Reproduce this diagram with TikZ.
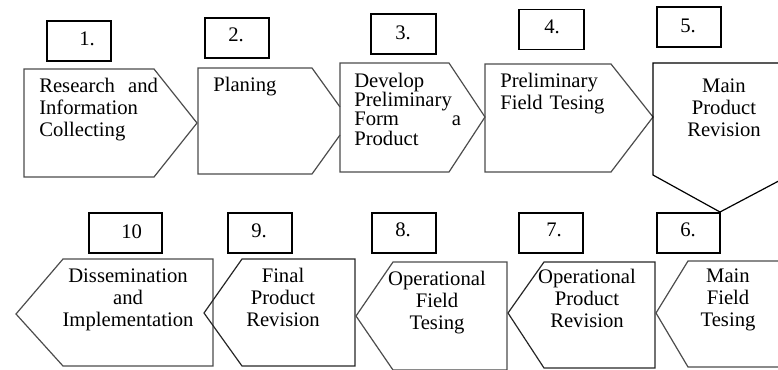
\documentclass[tikz,border=0pt]{standalone}
\usepackage{fontspec}
\setmainfont{Liberation Serif}
\begin{document}
\begin{tikzpicture}[x=0.75pt,y=-0.75pt,
  stage/.style={draw=black!70,line width=0.9pt,line join=miter},
  numbox/.style={draw=black,line width=0.9pt,minimum height=30pt,inner sep=0pt},
  numtext/.style={anchor=base west,inner sep=0pt,font=\fontsize{15.5}{16.5}\selectfont},
  lefttext/.style={anchor=base west,inner sep=0pt,align=left,font=\fontsize{15.5}{16.5}\selectfont},
  midtext/.style={anchor=base,inner sep=0pt,align=center,text width=110pt,font=\fontsize{15.5}{16.5}\selectfont}]
\useasboundingbox (0,0) rectangle (778,369);
\begin{scope}
\clip (0,0) rectangle (778,369);
% upper row of stage arrows, pointing right
\draw[stage] (24,69) -- (154,69) -- (197,123) -- (154,177) -- (24,177) -- cycle;
\draw[stage] (340,107) -- (312,68) -- (198,68) -- (198,174) -- (312,174) -- (340,135);
\draw[stage] (340,63) -- (449,63) -- (485,117) -- (449,172) -- (340,172) -- cycle;
\draw[stage] (485,64) -- (611,64) -- (653,117) -- (611,172) -- (485,172) -- cycle;
% turn downwards at stage 5
\draw[stage,draw=black] (653,63) -- (790,63) -- (790,175) -- (720,212) -- (653,175) -- cycle;
% lower row of stage arrows, pointing left
\draw[stage] (16,314) -- (63,259) -- (213,259) -- (213,366) -- (63,366) -- cycle;
\draw[stage,draw=black!85] (204,313) -- (242,259) -- (355,259) -- (355,366) -- (242,366) -- cycle;
\draw[stage] (356,316) -- (393,262) -- (507,262) -- (507,370) -- (393,370) -- cycle;
\draw[stage,draw=black!85] (508,313) -- (544,262) -- (655,262) -- (655,368) -- (544,368) -- cycle;
\draw[stage] (656,313) -- (688,261) -- (790,261) -- (790,367) -- (688,367) -- cycle;
\end{scope}
% number boxes
\node[numbox,minimum width=48pt] (n1) at (79,41) {};
\node[numbox,minimum width=48pt] (n2) at (237,38) {};
\node[numbox,minimum width=48.75pt] (n3) at (403.5,34) {};
\node[numbox,minimum width=48.75pt] (n4) at (551.5,29.5) {};
\node[numbox,minimum width=48pt] (n5) at (689,27) {};
\node[numbox,minimum width=54.75pt] (n10) at (125.5,233) {};
\node[numbox,minimum width=48pt] (n9) at (260,233) {};
\node[numbox,minimum width=48pt] (n8) at (404,233) {};
\node[numbox,minimum width=48pt] (n7) at (551,233) {};
\node[numbox,minimum width=47.25pt] (n6) at (688.5,233) {};
\node[numtext] (l1) at (79,45) {1.};
\node[numtext] (l2) at (228,41) {2.};
\node[numtext] (l3) at (395,39) {3.};
\node[numtext] (l4) at (544,33) {4.};
\node[numtext] (l5) at (680,32) {5.};
\node[numtext] (l10) at (121,238) {10};
\node[numtext] (l9) at (251,237) {9.};
\node[numtext] (l8) at (395,236) {8.};
\node[numtext] (l7) at (546,236) {7.};
\node[numtext] (l6) at (680,236) {6.};
% stage labels
\node[lefttext,text width=89pt] (t1) at (39,92) {Research\hfill and\\Information\\Collecting};
\node[lefttext,text width=80pt] (t2) at (213,91) {Planing};
\node[lefttext,text width=80pt,font=\fontsize{15.5}{14.5}\selectfont] (t3) at (354,87) {Develop\\Preliminary\\Form\hfill a\\Product};
\node[lefttext,text width=95pt] (t4) at (500,87) {Preliminary\\Field Tesing};
\node[midtext] (t5) at (724,92) {Main\\Product\\Revision};
\node[midtext] (t6) at (728,282) {Main\\Field\\Tesing};
\node[midtext] (t7) at (587,283) {Operational\\Product\\Revision};
\node[midtext] (t8) at (437,285) {Operational\\Field\\Tesing};
\node[midtext] (t9) at (283,282) {Final\\Product\\Revision};
\node[midtext] (t10) at (128,282) {Dissemination\\and\\Implementation};
\end{tikzpicture}
\end{document}
